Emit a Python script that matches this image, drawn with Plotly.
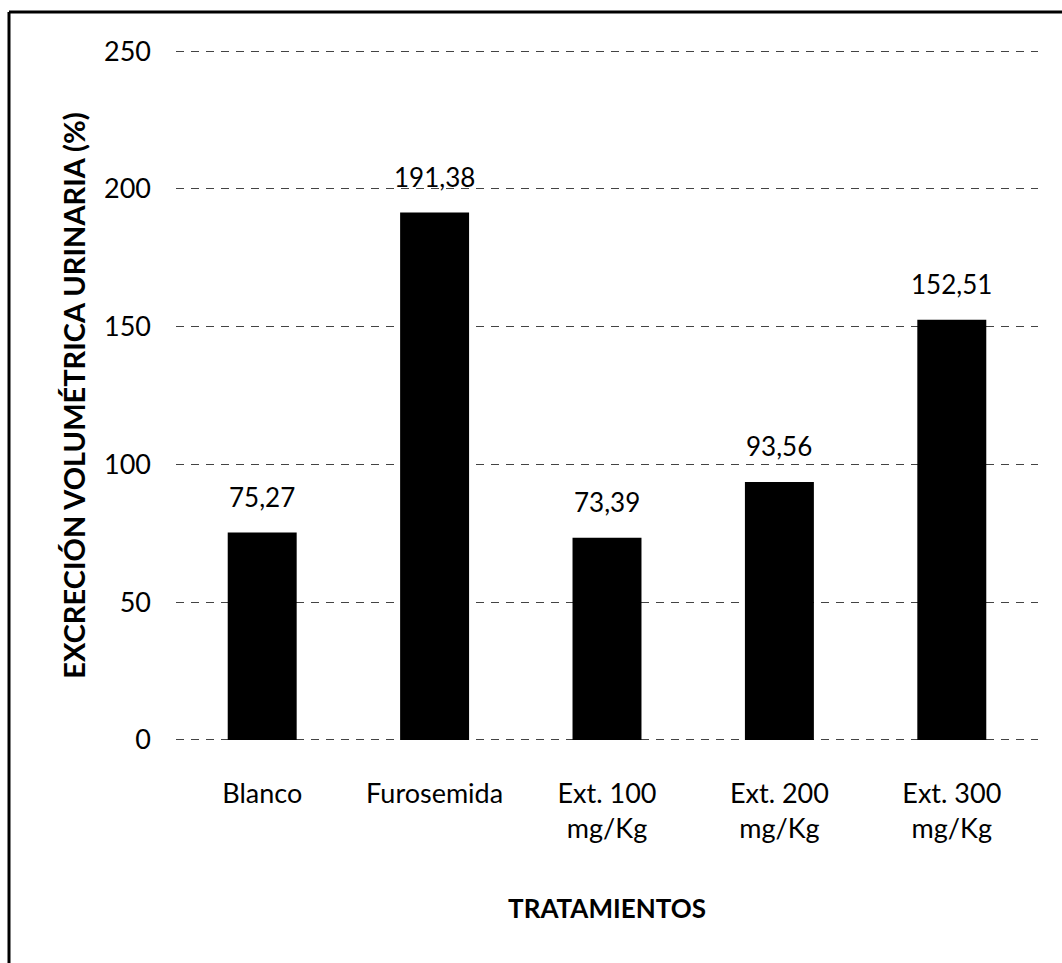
import plotly.graph_objects as go

# Treatments and urinary volumetric excretion (%)
tratamientos = ["Blanco", "Furosemida", "Ext. 100<br>mg/Kg", "Ext. 200<br>mg/Kg", "Ext. 300<br>mg/Kg"]
excrecion = [75.27, 191.38, 73.39, 93.56, 152.51]
y_ticks = [0, 50, 100, 150, 200, 250]

FONT = "Lato"
W, H = 1062, 963
M_L, M_R, M_T, M_B = 176, 24, 50, 222
plot_w = W - M_L - M_R
plot_h = H - M_T - M_B

fig = go.Figure(
    go.Bar(
        x=tratamientos,
        y=excrecion,
        marker=dict(color="black", line=dict(width=0)),
        hoverinfo="x+y",
    )
)

# value labels above each bar (comma decimal separator)
for cat, val in zip(tratamientos, excrecion):
    fig.add_annotation(
        x=cat, y=val,
        text=f"{val:.2f}".replace(".", ","),
        showarrow=False,
        yanchor="bottom",
        yshift=18,
        font=dict(family=FONT, size=26, color="black"),
    )

# outer frame (top and left edges of the page box)
fx0 = (9 - M_L) / plot_w
fy1 = (H - M_B - 12) / plot_h
fig.add_shape(type="line", xref="paper", yref="paper", x0=fx0, x1=(W - M_L) / plot_w + 0.1,
              y0=fy1, y1=fy1, line=dict(color="black", width=3))
fig.add_shape(type="line", xref="paper", yref="paper", x0=fx0, x1=fx0,
              y0=fy1, y1=-M_B / plot_h - 0.1, line=dict(color="black", width=3))

fig.update_layout(
    width=W,
    height=H,
    margin=dict(l=M_L, r=M_R, t=M_T, b=M_B),
    paper_bgcolor="white",
    plot_bgcolor="white",
    separators=",.",
    bargap=0.6,
    showlegend=False,
    font=dict(family=FONT, color="black"),
    xaxis=dict(
        showgrid=False,
        showline=False,
        ticks="",
        ticklabelstandoff=34,
        tickfont=dict(family=FONT, size=27, color="black"),
        title=dict(text="<b>TRATAMIENTOS</b>", font=dict(family=FONT, size=26), standoff=56),
    ),
    yaxis=dict(
        range=[-0.4, 250.4],
        tickvals=y_ticks,
        showgrid=True,
        gridcolor="#444444",
        griddash="8px,7px",
        gridwidth=1.3,
        zeroline=False,
        showline=False,
        ticks="",
        ticklabelstandoff=24,
        tickfont=dict(family=FONT, size=27, color="black"),
        title=dict(text="<b>EXCRECIÓN VOLUMÉTRICA URINARIA (%)</b>",
                   font=dict(family=FONT, size=29), standoff=9),
    ),
)

fig.write_html("out.html")
